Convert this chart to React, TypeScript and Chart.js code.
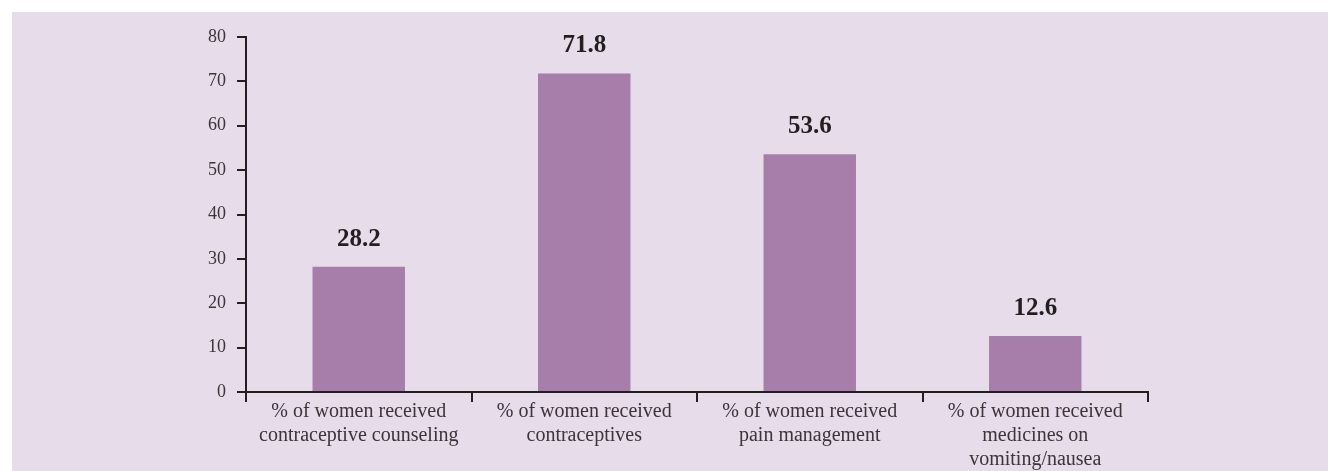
import React, { useEffect, useRef } from "react";
import { Chart, registerables } from "chart.js";

Chart.register(...registerables);

const categories: string[][] = [
  ["% of women received", "contraceptive counseling"],
  ["% of women received", "contraceptives"],
  ["% of women received", "pain management"],
  ["% of women received", "medicines on", "vomiting/nausea"],
];
const values: number[] = [28.2, 71.8, 53.6, 12.6];
const yMin = 0;
const yMax = 80;
const yStep = 10;

const BG = "#e6dcea";
const BAR = "#a67ea9";
const AXIS = "#231f20";
const TEXT = "#3a3536";
const FONT = "'Liberation Serif', 'DejaVu Serif', serif";

const valueLabels = {
  id: "valueLabels",
  afterDatasetsDraw(chart: any) {
    const ctx = chart.ctx;
    const meta = chart.getDatasetMeta(0);
    ctx.save();
    ctx.font = `bold 25px ${FONT}`;
    ctx.fillStyle = AXIS;
    ctx.textAlign = "center";
    ctx.textBaseline = "alphabetic";
    meta.data.forEach((bar: any, i: number) => {
      ctx.fillText(values[i].toFixed(1), bar.x, bar.y - 21);
    });
    ctx.restore();
  },
};

export default function App() {
  const ref = useRef<HTMLCanvasElement | null>(null);
  useEffect(() => {
    if (!ref.current) return;
    const chart = new Chart(ref.current, {
      type: "bar",
      data: {
        labels: categories,
        datasets: [
          {
            data: values,
            backgroundColor: BAR,
            borderWidth: 0,
            categoryPercentage: 1,
            barPercentage: 0.41,
          },
        ],
      },
      options: {
        responsive: false,
        animation: false,
        maintainAspectRatio: false,
        layout: { padding: { left: 0, right: 180, top: 25, bottom: 0 } },
        plugins: {
          legend: { display: false },
          tooltip: { enabled: false },
        },
        scales: {
          x: {
            offset: true,
            grid: {
              offset: true,
              drawOnChartArea: false,
              drawTicks: true,
              tickLength: 10,
              color: AXIS,
              lineWidth: 2,
            },
            border: { display: true, color: AXIS, width: 2 },
            ticks: {
              color: TEXT,
              padding: -2,
              maxRotation: 0,
              autoSkip: false,
              font: { family: FONT, size: 20, lineHeight: 1.2 },
            },
            afterFit(scale: any) {
              scale.height = 79;
            },
          },
          y: {
            min: yMin,
            max: yMax,
            grid: {
              drawOnChartArea: false,
              drawTicks: true,
              tickLength: 9,
              color: AXIS,
              lineWidth: 2,
            },
            border: { display: true, color: AXIS, width: 2 },
            ticks: {
              stepSize: yStep,
              color: TEXT,
              padding: 11,
              font: { family: FONT, size: 18 },
            },
            afterFit(scale: any) {
              scale.width = 234;
            },
          },
        },
      },
      plugins: [valueLabels],
    });
    return () => chart.destroy();
  }, []);
  return (
    <div
      style={{
        position: "absolute",
        left: 12,
        top: 12,
        width: 1316,
        height: 459,
        background: BG,
      }}
    >
      <canvas ref={ref} width={1316} height={459} style={{ display: "block" }} />
    </div>
  );
}
